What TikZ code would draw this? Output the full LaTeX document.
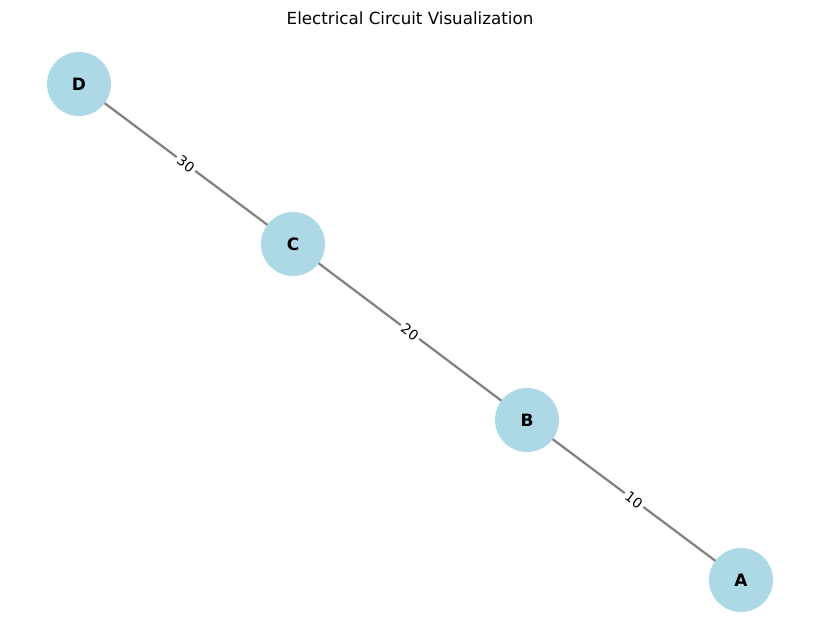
\documentclass[tikz,border=0pt]{standalone}
\usepackage{fontspec}
\setmainfont{DejaVu Sans}
\begin{document}
\begin{tikzpicture}[x=1pt,y=-1pt,
  vertex/.style={circle,fill={rgb,255:red,173;green,216;blue,230},minimum size=64pt,inner sep=0pt,font=\fontsize{17}{18}\selectfont\bfseries},
  wire/.style={draw={rgb,255:red,128;green,128;blue,128},line width=2.2pt},
  weight/.style={fill=white,inner sep=2.5pt,font=\fontsize{13.9}{15}\selectfont,rotate=-36.8}]
\useasboundingbox (0,0) rectangle (819,642);
\node[font=\fontsize{16.7}{18}\selectfont] (title) at (410,18) {Electrical Circuit Visualization};
\coordinate (pD) at (79,84);
\coordinate (pC) at (293,244);
\coordinate (pB) at (527,420);
\coordinate (pA) at (741,580);
\draw[wire] (pD) -- (pC) node[weight,midway] (w30) {30};
\draw[wire] (pC) -- (pB) node[weight,midway] (w20) {20};
\draw[wire] (pB) -- (pA) node[weight,midway] (w10) {10};
\node[vertex] (D) at (pD) {D};
\node[vertex] (C) at (pC) {C};
\node[vertex] (B) at (pB) {B};
\node[vertex] (A) at (pA) {A};
\end{tikzpicture}
\end{document}
